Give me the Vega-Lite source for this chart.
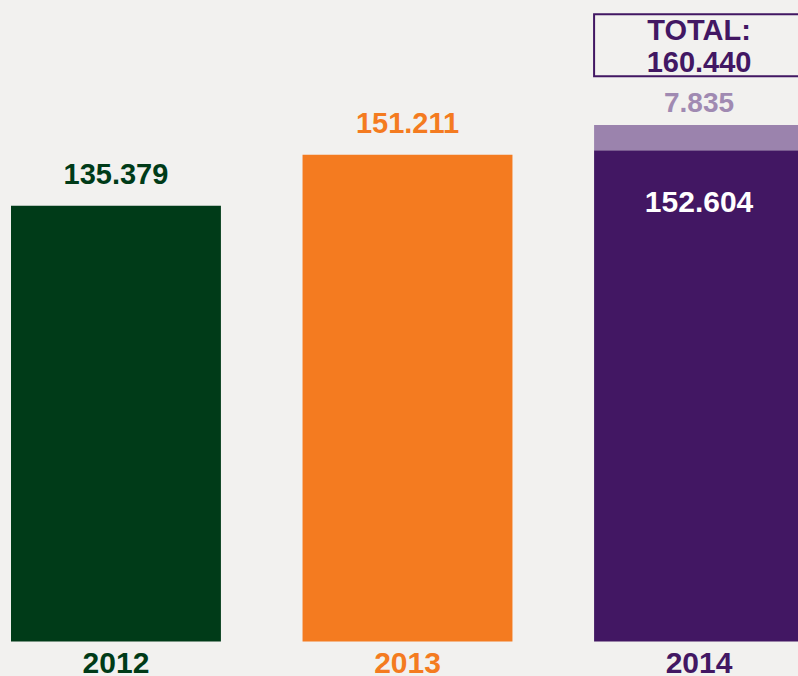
{
  "$schema": "https://vega.github.io/schema/vega-lite/v6.json",
  "width": 798,
  "height": 676,
  "padding": 0,
  "autosize": {"type": "none"},
  "background": "#f2f1ef",
  "config": {"view": {"stroke": null}},
  "datasets": {
    "bars": [
      {"year": "2012", "series": "2012", "start": 0, "end": 135.379},
      {"year": "2013", "series": "2013", "start": 0, "end": 151.211},
      {"year": "2014", "series": "2014", "start": 0, "end": 152.604},
      {"year": "2014", "series": "2014 extra", "start": 152.604, "end": 160.44}
    ],
    "top": [
      {"year": "2012", "series": "2012", "value": 135.379, "label": "135.379"},
      {"year": "2013", "series": "2013", "value": 151.211, "label": "151.211"}
    ],
    "extra": [
      {"year": "2014", "value": 160.44, "label": "7.835"}
    ],
    "inner": [
      {"year": "2014", "value": 152.604, "label": "152.604"}
    ],
    "total": [
      {"year": "2014", "label": "TOTAL:|160.440"}
    ],
    "years": [
      {"year": "2012", "series": "2012"},
      {"year": "2013", "series": "2013"},
      {"year": "2014", "series": "2014"}
    ]
  },
  "encoding": {
    "x": {
      "field": "year",
      "type": "nominal",
      "axis": null,
      "scale": {"type": "band", "domain": ["2012", "2013", "2014"], "range": [11, 804], "paddingInner": 0.28, "paddingOuter": 0}
    }
  },
  "layer": [
    {
      "data": {"name": "bars"},
      "mark": {"type": "bar"},
      "encoding": {
        "y": {"field": "start", "type": "quantitative", "axis": null, "scale": {"domain": [0, 199.3], "range": [641.5, 0], "nice": false, "zero": true}},
        "y2": {"field": "end"},
        "color": {
          "field": "series",
          "type": "nominal",
          "legend": null,
          "scale": {"domain": ["2012", "2013", "2014", "2014 extra"], "range": ["#003b18", "#f47b20", "#421763", "#9b83ad"]}
        }
      }
    },
    {
      "data": {"name": "top"},
      "mark": {"type": "text", "font": "Liberation Sans", "fontWeight": "bold", "fontSize": 29, "baseline": "alphabetic", "dy": -22},
      "encoding": {
        "y": {"field": "value", "type": "quantitative"},
        "text": {"field": "label"},
        "color": {"field": "series", "type": "nominal", "legend": null}
      }
    },
    {
      "data": {"name": "extra"},
      "mark": {"type": "text", "font": "Liberation Sans", "fontWeight": "bold", "fontSize": 28, "baseline": "alphabetic", "dy": -13, "color": "#a08ab2"},
      "encoding": {
        "y": {"field": "value", "type": "quantitative"},
        "text": {"field": "label"}
      }
    },
    {
      "data": {"name": "inner"},
      "mark": {"type": "text", "font": "Liberation Sans", "fontWeight": "bold", "fontSize": 30, "baseline": "alphabetic", "dy": 61.5, "color": "#ffffff"},
      "encoding": {
        "y": {"field": "value", "type": "quantitative"},
        "text": {"field": "label"}
      }
    },
    {
      "data": {"name": "total"},
      "mark": {"type": "rect", "fill": null, "fillOpacity": 0, "stroke": "#421763", "strokeWidth": 2},
      "encoding": {
        "y": {"datum": 194.84, "type": "quantitative"},
        "y2": {"datum": 175.58}
      }
    },
    {
      "data": {"name": "total"},
      "mark": {"type": "text", "font": "Liberation Sans", "fontWeight": "bold", "fontSize": 29, "baseline": "alphabetic", "lineBreak": "|", "lineHeight": 31.7, "dy": 25.7, "color": "#421763"},
      "encoding": {
        "y": {"datum": 194.84, "type": "quantitative"},
        "text": {"field": "label"}
      }
    },
    {
      "data": {"name": "years"},
      "mark": {"type": "text", "font": "Liberation Sans", "fontWeight": "bold", "fontSize": 30, "baseline": "alphabetic", "dy": 31.5},
      "encoding": {
        "y": {"datum": 0, "type": "quantitative"},
        "text": {"field": "year"},
        "color": {"field": "series", "type": "nominal", "legend": null}
      }
    }
  ]
}
